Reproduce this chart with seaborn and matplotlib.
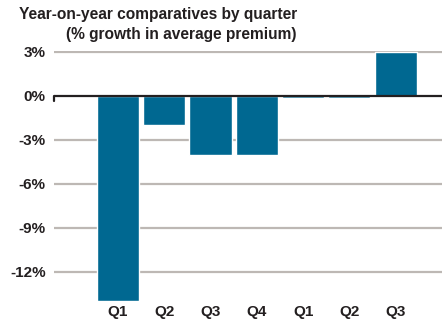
import matplotlib
matplotlib.use("Agg")
import matplotlib.pyplot as plt
import seaborn as sns
import pandas as pd

quarters = ["Q1", "Q2", "Q3", "Q4", "Q1 ", "Q2 ", "Q3 "]
tick_labels = ["Q1", "Q2", "Q3", "Q4", "Q1", "Q2", "Q3"]
growth = [-14.0, -2.0, -4.0, -4.0, -0.15, -0.15, 3.0]
y_ticks = [3, 0, -3, -6, -9, -12]
y_labels = ["3%", "0%", "-3%", "-6%", "-9%", "-12%"]

df = pd.DataFrame({"quarter": quarters, "growth": growth})

sns.set_theme(style="white")
plt.rcParams['font.family'] = ['Liberation Sans', 'DejaVu Sans']

fig = plt.figure(figsize=(4.42, 3.24), dpi=100)
ax = fig.add_axes([54/442, 23/324, 1 - 54/442, (301-50.5)/324])

for t in y_ticks:
    if t != 0:
        ax.axhline(t, color="#bdb8b4", lw=1.6, zorder=0)

sns.barplot(data=df, x="quarter", y="growth", color="#006891", width=0.91,
            saturation=1, ax=ax, zorder=2)

ax.axhline(0, color="#231f20", lw=1.6, zorder=3)
ax.set_xlim(-1.38, 7.0)
ax.set_ylim(-14, 3.1)
ax.set_yticks(y_ticks)
ax.set_yticklabels(y_labels, fontsize=11, fontweight="bold", color="#231f20")
ax.set_xticks(range(len(quarters)))
ax.set_xticklabels(tick_labels, fontsize=11, fontweight="bold", color="#231f20")
ax.tick_params(axis="y", length=0, pad=6)
ax.tick_params(axis="x", length=0, pad=3)
ax.set_xlabel("")
ax.set_ylabel("")
for s in ax.spines.values():
    s.set_visible(False)
# small tick at origin
ax.plot([-1.38, -1.38], [0, -0.35], color="#231f20", lw=1.6, clip_on=False, zorder=3)

fig.text(297/442, 1 - 15/324, "Year-on-year comparatives by quarter", ha="right", va="center",
         fontsize=11.2, fontweight="bold", color="#231f20")
fig.text(297/442, 1 - 35/324, "(% growth in average premium)", ha="right", va="center",
         fontsize=11.2, fontweight="bold", color="#231f20")

fig.savefig("out.png", dpi=100)
